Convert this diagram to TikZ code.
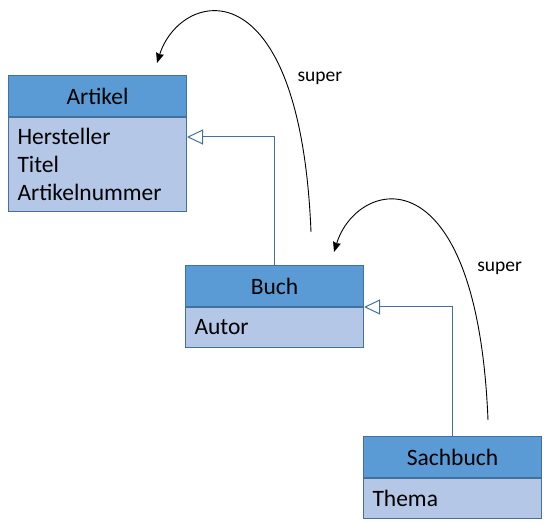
\documentclass[tikz,border=0pt]{standalone}
\usepackage{fontspec}
\setmainfont{Carlito}
\usetikzlibrary{arrows.meta, positioning}
\definecolor{headblue}{HTML}{5B9BD5}
\definecolor{bodyblue}{HTML}{B4C7E7}
\definecolor{edgeblue}{HTML}{41719C}

\begin{document}
\begin{tikzpicture}[x=1pt, y=-1pt,
        classhead/.style={rectangle, draw=edgeblue, line width=1pt, fill=headblue, anchor=north west, minimum width=178pt, minimum height=41pt, font=\fontsize{23.5}{28}\selectfont},
        classbody/.style={rectangle, draw=edgeblue, line width=1pt, fill=bodyblue, align=left, text width=160pt, inner xsep=9pt, minimum height=40pt, font=\fontsize{23.5}{28}\selectfont},
        inherit/.style={draw=edgeblue, line width=1pt, -{Triangle[open, length=16pt, width=15pt]}},
        superarrow/.style={draw, line width=0.9pt, -{Stealth[length=10pt, width=8pt, inset=1pt]}},
        superlabel/.style={font=\fontsize{19.5}{22}\selectfont}
        ]
        \useasboundingbox (0,0) rectangle (550,524);

        % Nodes
        \node (artikel) [classhead] at (8,75) {Artikel};
        \node (artikelBody) [classbody, below=0pt of artikel, minimum height=94pt] {Hersteller\\Titel\\Artikelnummer};
        \node (buch) [classhead] at (185,265) {Buch};
        \node (buchBody) [classbody, below=0pt of buch] {Autor};
        \node (sachbuch) [classhead] at (363,436) {Sachbuch};
        \node (sachbuchBody) [classbody, below=0pt of sachbuch] {Thema};

        \coordinate (superA) at (311,232);
        \coordinate (superB) at (488,420);

        % Arrows
        \draw [inherit] (buch.north) |- ([yshift=-20pt]artikelBody.north east);
        \draw [inherit] (sachbuch.north) |- (buchBody.north east);
        \draw [superarrow] (superA) .. controls (300,-40) and (180,-10) .. node[superlabel, pos=0.255, right=9pt] {super} (157,63);
        \draw [superarrow] (superB) .. controls (477,148) and (357,178) .. node[superlabel, pos=0.25, right=11pt] {super} (334,252);

    \end{tikzpicture}
\end{document}
